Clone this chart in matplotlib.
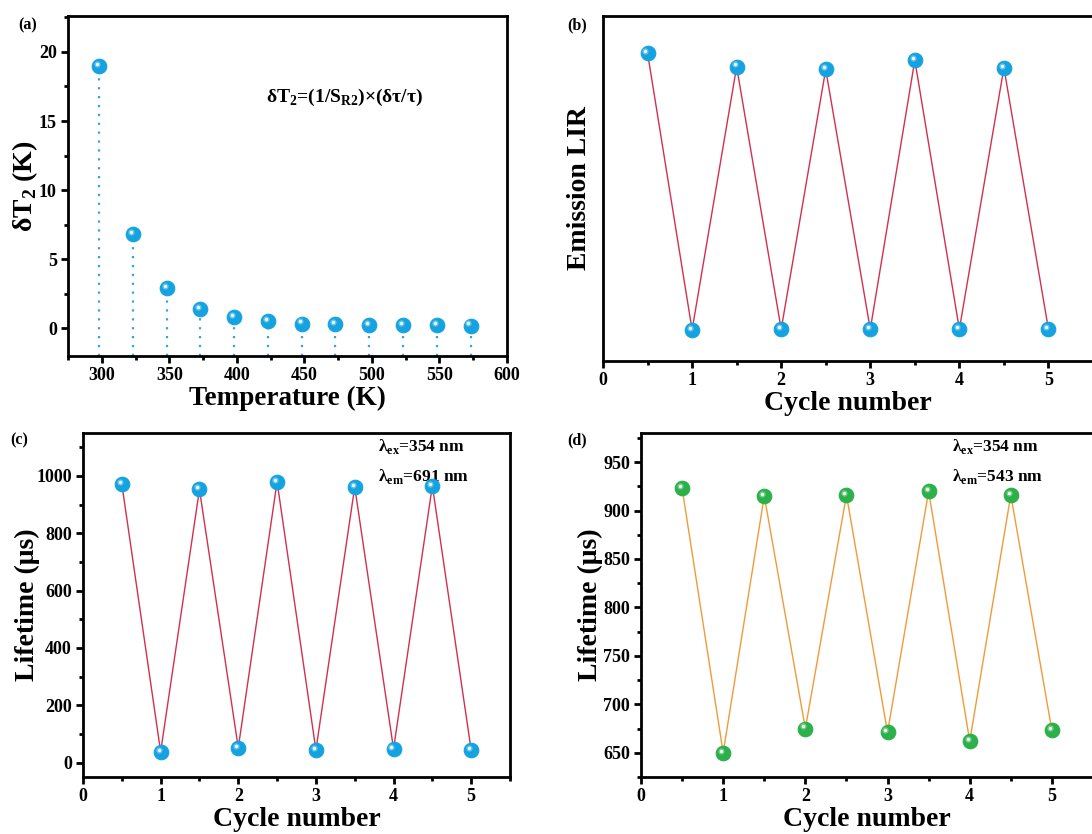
import matplotlib
matplotlib.use("Agg")
import matplotlib.pyplot as plt
from matplotlib.ticker import MultipleLocator, NullLocator
from matplotlib.transforms import offset_copy

plt.rcParams['font.family'] = ['Liberation Serif', 'DejaVu Serif']
plt.rcParams['font.weight'] = 'bold'
plt.rcParams['axes.labelweight'] = 'bold'

# (a) temperature resolution
temps = [298, 323, 348, 373, 398, 423, 448, 473, 498, 523, 548, 573]
dT2 = [19.0, 6.8, 2.9, 1.4, 0.8, 0.5, 0.35, 0.3, 0.25, 0.25, 0.22, 0.2]

# cycling: heating/cooling points
cycle = [0.5, 1, 1.5, 2, 2.5, 3, 3.5, 4, 4.5, 5]
lir = [0.893, 0.09, 0.853, 0.092, 0.845, 0.092, 0.872, 0.092, 0.85, 0.092]
life_691 = [972, 38, 953, 52, 980, 44, 962, 48, 966, 44]
life_543 = [923, 650, 915, 675, 916, 671, 920, 662, 916, 673]

BLUE = '#14a3e0'
GREEN = '#2bb04a'
RED = '#d2304e'
ORANGE = '#f29a3a'

W, H = 1092, 834
fig = plt.figure(figsize=(W / 100, H / 100), dpi=100)


def box(l, r, t, b):
    return fig.add_axes([l / W, 1 - b / H, (r - l) / W, (b - t) / H])


def balls(ax, x, y, color):
    # shaded sphere look: solid dot plus a soft highlight
    ax.plot(x, y, 'o', ms=10.5, color=color, mec=color, mew=0.8, zorder=4, clip_on=False)
    hi = offset_copy(ax.transData, fig=fig, x=-1.5, y=1.6, units='points')
    ax.plot(x, y, 'o', ms=4.5, color='white', mec='none', alpha=0.35,
            transform=hi, zorder=5, clip_on=False)
    ax.plot(x, y, 'o', ms=2.4, color='white', mec='none', alpha=0.9,
            transform=hi, zorder=6, clip_on=False)


def style(ax):
    for s in ax.spines.values():
        s.set_linewidth(2)
    ax.tick_params(which='both', direction='out', width=2, labelsize=13,
                   top=False, right=False, pad=3)
    ax.tick_params(which='major', length=5)
    ax.tick_params(which='minor', length=3)
    for lab in ax.get_xticklabels() + ax.get_yticklabels():
        lab.set_fontweight('bold')


# ---- (a)
ax = box(68, 507, 16, 356)
ax.vlines(temps, -2, dT2, colors='#3aa3d6', linestyles=(0, (1, 3)), lw=1.6)
balls(ax, temps, dT2, BLUE)
ax.set_xlim(275, 600)
ax.set_ylim(-2, 22.6)
ax.xaxis.set_major_locator(MultipleLocator(50))
ax.xaxis.set_minor_locator(MultipleLocator(25))
ax.yaxis.set_major_locator(MultipleLocator(5))
ax.yaxis.set_minor_locator(MultipleLocator(2.5))
style(ax)
ax.set_xlabel('Temperature (K)', fontsize=19.5, labelpad=1)
ax.set_ylabel('δT$_\\mathregular{2}$ (K)', fontsize=20, labelpad=-1)
ax.text(0.63, 0.76, 'δT$_\\mathregular{2}$=(1/S$_\\mathregular{R2}$)×(δτ/τ)',
        transform=ax.transAxes, ha='center', va='center', fontsize=14)
fig.text(18 / W, 1 - 25 / H, '(a)', fontsize=11.5, va='center')

# ---- (b)
ax = box(603, 1093, 16, 361)
ax.plot(cycle, lir, color=RED, lw=1)
balls(ax, cycle, lir, BLUE)
ax.set_xlim(0, 5.5)
ax.set_ylim(0, 1)
ax.xaxis.set_major_locator(MultipleLocator(1))
ax.xaxis.set_minor_locator(MultipleLocator(0.5))
ax.yaxis.set_major_locator(NullLocator())
style(ax)
ax.set_xlabel('Cycle number', fontsize=20, labelpad=1)
ax.set_ylabel('Emission LIR', fontsize=20, labelpad=8)
fig.text(567 / W, 1 - 25 / H, '(b)', fontsize=11.5, va='center')

# ---- (c)
ax = box(83, 510, 433, 777)
ax.plot(cycle, life_691, color=RED, lw=1)
balls(ax, cycle, life_691, BLUE)
ax.set_xlim(0, 5.5)
ax.set_ylim(-50, 1150)
ax.xaxis.set_major_locator(MultipleLocator(1))
ax.xaxis.set_minor_locator(MultipleLocator(0.5))
ax.yaxis.set_major_locator(MultipleLocator(200))
ax.yaxis.set_minor_locator(MultipleLocator(100))
style(ax)
ax.set_xlabel('Cycle number', fontsize=20, labelpad=1)
ax.set_ylabel('Lifetime (μs)', fontsize=20, labelpad=-3)
ax.text(0.69, 0.96, 'λ$_\\mathregular{ex}$=354 nm', transform=ax.transAxes,
        ha='left', va='center', fontsize=12.5)
ax.text(0.69, 0.875, 'λ$_\\mathregular{em}$=691 nm', transform=ax.transAxes,
        ha='left', va='center', fontsize=12.5)
fig.text(10 / W, 1 - 440 / H, '(c)', fontsize=11.5, va='center')

# ---- (d)
ax = box(641, 1093, 433, 777)
ax.plot(cycle, life_543, color=ORANGE, lw=1)
balls(ax, cycle, life_543, GREEN)
ax.set_xlim(0, 5.5)
ax.set_ylim(625, 980)
ax.xaxis.set_major_locator(MultipleLocator(1))
ax.xaxis.set_minor_locator(MultipleLocator(0.5))
ax.yaxis.set_major_locator(MultipleLocator(50))
ax.yaxis.set_minor_locator(MultipleLocator(25))
style(ax)
ax.set_xlabel('Cycle number', fontsize=20, labelpad=1)
ax.set_ylabel('Lifetime (μs)', fontsize=20, labelpad=0)
ax.text(0.688, 0.96, 'λ$_\\mathregular{ex}$=354 nm', transform=ax.transAxes,
        ha='left', va='center', fontsize=12.5)
ax.text(0.688, 0.875, 'λ$_\\mathregular{em}$=543 nm', transform=ax.transAxes,
        ha='left', va='center', fontsize=12.5)
fig.text(567 / W, 1 - 440 / H, '(d)', fontsize=11.5, va='center')

fig.savefig('out.png', dpi=100)
